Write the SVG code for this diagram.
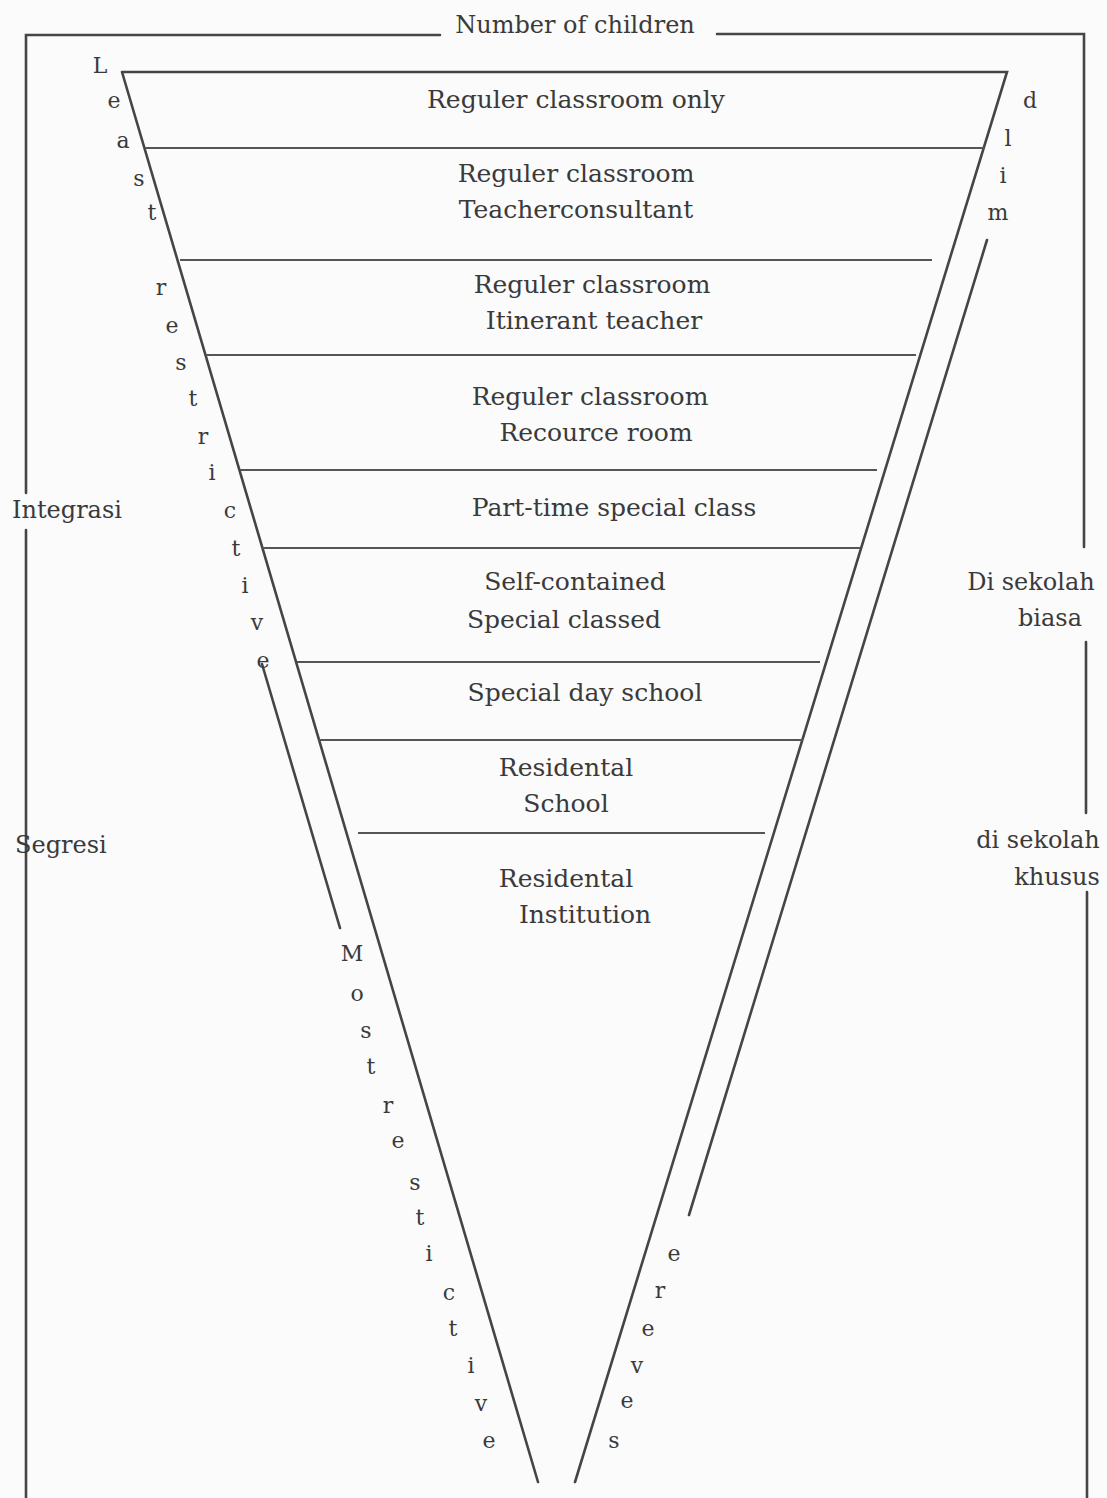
<svg xmlns="http://www.w3.org/2000/svg" width="1107" height="1498" viewBox="0 0 1107 1498">
<style>
text{font-family:"DejaVu Serif","Liberation Serif",serif;fill:#3a3a3a;}
.b{font-size:25px;text-anchor:middle;}
.s{font-size:24px;}
.l{font-size:22px;text-anchor:middle;}
.ln{stroke:#454545;stroke-width:2.6;fill:none;stroke-linecap:round;}
.tn{stroke:#555;stroke-width:2;fill:none;}
</style>
<rect width="1107" height="1498" fill="#fbfbfb"/>
<g id="connectors">
<path class="ln" d="M440 35 H26 V493 M26 530 V1498"/>
<path class="ln" d="M717 34 H1084 V547 M1086 642 V813 M1087 892 V1498"/>
<path class="ln" d="M122 72 H1007 L575 1482 M122 72 L538 1482"/>
<path class="ln" d="M262 664 L340 928"/>
<path class="ln" d="M987 240 L689 1215"/>
<path class="tn" d="M145 148 H985 M180 260 H932 M206 355 H916 M240 470 H877 M262 548 H860 M297 662 H820 M319 740 H803 M358 833 H765"/>
</g>
<g id="title"><text class="s" x="575" y="33" text-anchor="middle">Number of children</text></g>
<g id="band1"><text class="b" x="576" y="108">Reguler classroom only</text></g>
<g id="band2"><text class="b" x="576" y="182">Reguler classroom</text><text class="b" x="576" y="218">Teacherconsultant</text></g>
<g id="band3"><text class="b" x="592" y="293">Reguler classroom</text><text class="b" x="594" y="329">Itinerant teacher</text></g>
<g id="band4"><text class="b" x="590" y="405">Reguler classroom</text><text class="b" x="596" y="441">Recource room</text></g>
<g id="band5"><text class="b" x="614" y="516">Part-time special class</text></g>
<g id="band6"><text class="b" x="575" y="590">Self-contained</text><text class="b" x="564" y="628">Special classed</text></g>
<g id="band7"><text class="b" x="585" y="701">Special day school</text></g>
<g id="band8"><text class="b" x="566" y="776">Residental</text><text class="b" x="566" y="812">School</text></g>
<g id="band9"><text class="b" x="566" y="887">Residental</text><text class="b" x="585" y="923">Institution</text></g>
<g id="integrasi"><text class="s" x="12" y="518">Integrasi</text></g>
<g id="segresi"><text class="s" x="15" y="853">Segresi</text></g>
<g id="biasa"><text class="s" x="1031" y="590" text-anchor="middle">Di sekolah</text><text class="s" x="1050" y="626" text-anchor="middle">biasa</text></g>
<g id="khusus"><text class="s" x="1038" y="848" text-anchor="middle">di sekolah</text><text class="s" x="1057" y="885" text-anchor="middle">khusus</text></g>
<g id="least-restrictive">
<text class="l" x="100" y="73">L</text><text class="l" x="114" y="108">e</text><text class="l" x="123" y="148">a</text><text class="l" x="139" y="186">s</text><text class="l" x="152" y="220">t</text>
<text class="l" x="161" y="295">r</text><text class="l" x="172" y="333">e</text><text class="l" x="181" y="370">s</text><text class="l" x="193" y="406">t</text><text class="l" x="203" y="444">r</text><text class="l" x="212" y="480">i</text><text class="l" x="230" y="518">c</text><text class="l" x="236" y="556">t</text><text class="l" x="245" y="593">i</text><text class="l" x="257" y="630">v</text><text class="l" x="263" y="668">e</text>
</g>
<g id="most-restrictive">
<text class="l" x="352" y="961">M</text><text class="l" x="357" y="1001">o</text><text class="l" x="366" y="1038">s</text><text class="l" x="371" y="1074">t</text><text class="l" x="388" y="1113">r</text><text class="l" x="398" y="1148">e</text><text class="l" x="415" y="1190">s</text><text class="l" x="420" y="1225">t</text><text class="l" x="429" y="1261">i</text><text class="l" x="449" y="1300">c</text><text class="l" x="453" y="1336">t</text><text class="l" x="471" y="1373">i</text><text class="l" x="481" y="1411">v</text><text class="l" x="489" y="1448">e</text>
</g>
<g id="mild">
<text class="l" x="1030" y="108">d</text><text class="l" x="1008" y="146">l</text><text class="l" x="1003" y="183">i</text><text class="l" x="998" y="220">m</text>
</g>
<g id="severe">
<text class="l" x="674" y="1261">e</text><text class="l" x="660" y="1298">r</text><text class="l" x="648" y="1336">e</text><text class="l" x="637" y="1373">v</text><text class="l" x="627" y="1408">e</text><text class="l" x="614" y="1448">s</text>
</g>
</svg>
